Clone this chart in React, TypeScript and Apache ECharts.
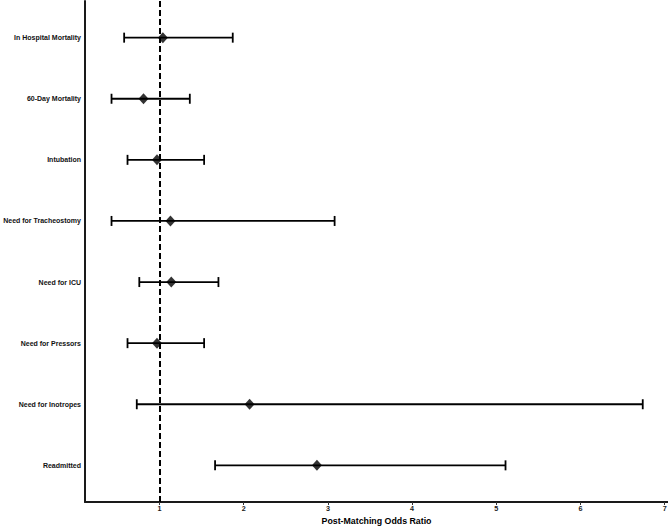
import React, { useEffect, useRef } from "react";
import * as echarts from "echarts";

// Outcomes listed from top to bottom
const outcomes = [
  "In Hospital Mortality",
  "60-Day Mortality",
  "Intubation",
  "Need for Tracheostomy",
  "Need for ICU",
  "Need for Pressors",
  "Need for Inotropes",
  "Readmitted",
];
const oddsRatio = [1.04, 0.81, 0.97, 1.13, 1.14, 0.97, 2.07, 2.87];
const ciLow = [0.58, 0.43, 0.62, 0.43, 0.76, 0.62, 0.73, 1.66];
const ciHigh = [1.87, 1.36, 1.53, 3.08, 1.7, 1.53, 6.74, 5.11];
const xTicks = [1, 2, 3, 4, 5, 6, 7];
const refValue = 1;
const xTitle = "Post-Matching Odds Ratio";

const FONT = "'Liberation Sans', Arial, Helvetica, sans-serif";

export default function App() {
  const ref = useRef<HTMLDivElement>(null);
  useEffect(() => {
    if (!ref.current) return;
    const chart = echarts.init(ref.current, null, { renderer: "svg" });
    const n = outcomes.length;
    const yPos = outcomes.map((_, i) => n - i);
    const labelByY: Record<number, string> = {};
    outcomes.forEach((o, i) => (labelByY[n - i] = o));

    const ciData = outcomes.map((_, i) => [ciLow[i], ciHigh[i], yPos[i]]);
    const pointData = outcomes.map((_, i) => [oddsRatio[i], yPos[i]]);

    chart.setOption({
      animation: false,
      backgroundColor: "#ffffff",
      grid: {
        left: 85,
        right: 0,
        top: 1,
        bottom: 24,
        containLabel: false,
        outerBoundsMode: "none",
      },
      xAxis: {
        type: "value",
        min: 0.115,
        max: 7.04,
        name: xTitle,
        nameLocation: "middle",
        nameGap: 12,
        nameTextStyle: {
          fontFamily: FONT,
          fontWeight: "bold",
          fontSize: 8.8,
          color: "#000",
        },
        axisLine: { show: true, lineStyle: { color: "#1a1a1a", width: 2 } },
        axisTick: {
          show: true,
          length: 3,
          customValues: xTicks,
          lineStyle: { color: "#333", width: 1 },
        },
        axisLabel: {
          customValues: xTicks,
          fontFamily: FONT,
          fontWeight: "bold",
          fontSize: 7.2,
          color: "#1a1a1a",
          margin: 3,
        },
        splitLine: { show: false },
      },
      yAxis: {
        type: "value",
        min: 0.4,
        max: 8.6,
        axisLine: { show: true, lineStyle: { color: "#1a1a1a", width: 2 } },
        axisTick: { show: false },
        axisLabel: {
          customValues: yPos,
          formatter: (v: number) => labelByY[Math.round(v)] || "",
          fontFamily: FONT,
          fontWeight: "bold",
          fontSize: 7,
          color: "#111",
          margin: 4,
        },
        splitLine: { show: false },
      },
      series: [
        {
          type: "custom",
          data: ciData,
          encode: { x: [0, 1], y: 2 },
          renderItem: (params: any, api: any) => {
            const lo = api.coord([api.value(0), api.value(2)]);
            const hi = api.coord([api.value(1), api.value(2)]);
            const cap = 5;
            const style = { stroke: "#000", lineWidth: 1.8, fill: "none" };
            return {
              type: "group",
              children: [
                { type: "line", shape: { x1: lo[0], y1: lo[1], x2: hi[0], y2: hi[1] }, style },
                { type: "line", shape: { x1: lo[0], y1: lo[1] - cap, x2: lo[0], y2: lo[1] + cap }, style },
                { type: "line", shape: { x1: hi[0], y1: hi[1] - cap, x2: hi[0], y2: hi[1] + cap }, style },
              ],
            };
          },
          z: 2,
        },
        {
          type: "scatter",
          data: pointData,
          symbol: "diamond",
          symbolSize: [10, 11],
          itemStyle: { color: "#000" },
          z: 4,
          markLine: {
            silent: true,
            symbol: ["none", "none"],
            label: { show: false },
            lineStyle: { color: "#000", width: 2, type: [6, 3] },
            data: [{ xAxis: refValue }],
            z: 3,
          },
        },
      ],
    });
    return () => chart.dispose();
  }, []);
  return (
    <div
      ref={ref}
      style={{ position: "fixed", left: 0, top: 0, width: 668, height: 526 }}
    />
  );
}
